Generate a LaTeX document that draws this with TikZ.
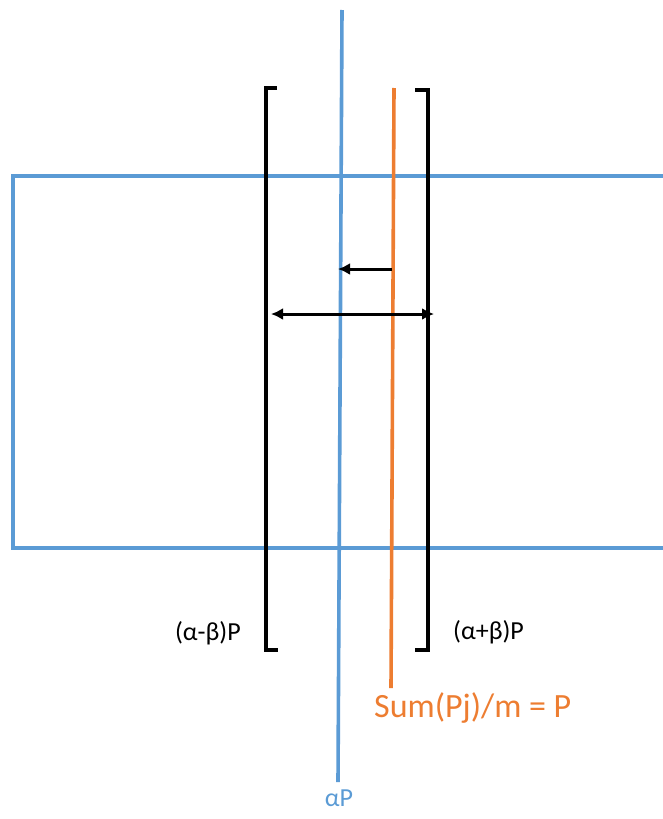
\documentclass[tikz,border=0pt]{standalone}
\usepackage{fontspec}
\setmainfont{Carlito}
\usetikzlibrary{arrows.meta,calc,positioning}
\definecolor{lineblue}{RGB}{91,155,213}
\definecolor{lineorange}{RGB}{237,125,49}

\begin{document}
\begin{tikzpicture}[
  x=1pt, y=-1pt,
  every node/.style={
    font=\fontsize{26}{30}\selectfont,
    text=black,
    inner sep=0pt
  },
  box/.style={
    draw=lineblue,
    line width=3.6pt
  },
  bracket/.style={
    draw=black,
    line width=3.6pt
  },
  mean/.style={
    draw=lineorange,
    line width=3.6pt
  },
  arrow/.style={
    draw=black,
    line width=3pt,
    -{Latex[length=12pt,width=12pt]}
  },
  twoway/.style={
    arrow,
    {Latex[length=12pt,width=12pt]}-{Latex[length=12pt,width=12pt]}
  }
]
  \useasboundingbox (0,0) rectangle (663,819);

  % open box
  \draw[box] (668,176) -- (13,176) -- (13,548) -- (668,548);

  % alpha P line
  \coordinate (atop) at (342,10);
  \coordinate (abot) at (338,782);
  \draw[box] (atop) -- (abot);
  \node[text=lineblue, anchor=north] (alabel) at (339,790) {αP};

  % sum line
  \coordinate (stop) at (394,88);
  \coordinate (sbot) at (391,688);
  \draw[mean] (stop) -- (sbot);
  \node[text=lineorange, anchor=west, font=\fontsize{34}{38}\selectfont]
    (slabel) at (374,708) {Sum(Pj)/m = P};

  % brackets
  \draw[bracket] (277,88) -- (266,88) -- (266,650) -- (278,650);
  \draw[bracket] (415,90) -- (428,90) -- (428,650) -- (415,650);
  \node[anchor=east] (lower) at (241,633) {(α-β)P};
  \node[anchor=west] (upper) at (453,632) {(α+β)P};

  % shifts
  \coordinate (sfrom) at (392,269);
  \coordinate (sto) at (338,269);
  \coordinate (wleft) at (271,314);
  \coordinate (wright) at (434,314);
  \draw[arrow] (sfrom) -- (sto);
  \draw[twoway] (wleft) -- (wright);
\end{tikzpicture}
\end{document}
